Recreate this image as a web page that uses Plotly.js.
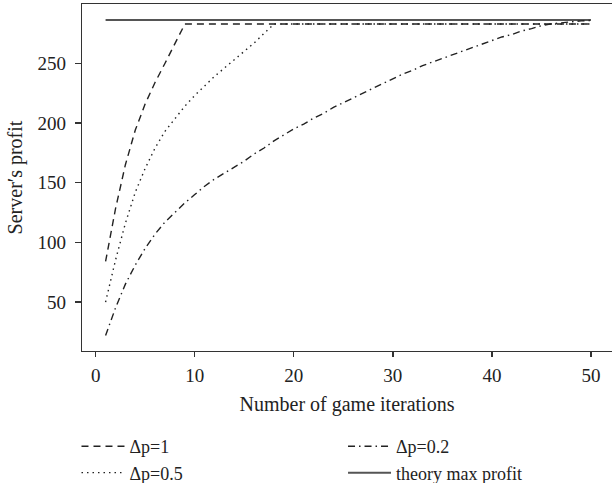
<!DOCTYPE html>
<html>
<head>
<meta charset="utf-8">
<script src="https://cdn.plot.ly/plotly-3.0.1.min.js"></script>
<style>html,body{margin:0;padding:0;background:#fff;}#chart{width:612px;height:483px;}</style>
</head>
<body>
<div id="chart"></div>
<script>
// Data
const xDp1 = [1, 2, 3, 4, 5, 6, 7, 8, 9, 50];
const yDp1 = [84, 128, 165, 194, 216, 234, 250, 266, 282.8, 282.8];

const xDp05 = [1, 2, 3, 4, 5, 6, 7, 8, 9, 10, 11, 12, 13, 14, 15, 16, 17, 18, 50];
const yDp05 = [50, 85, 116, 142, 162, 179, 193, 204, 214, 223, 231, 239, 246, 253, 260, 267, 275, 282.8, 282.8];

const xDp02 = [1, 2, 3, 4, 5, 6, 7, 8, 9, 10, 11, 12, 13, 14, 15, 16, 17, 18, 19, 20,
               21, 22, 23, 24, 25, 26, 27, 28, 29, 30, 31, 32, 33, 34, 35, 36, 37, 38, 39, 40,
               41, 42, 43, 44, 45, 46, 47, 48, 49, 50];
const yDp02 = [22, 45, 65, 81, 95, 107, 117, 125, 133, 140, 147, 153, 158, 163, 168, 174, 179, 185, 190, 195,
               199, 204, 208, 213, 217, 221, 225, 229, 233, 237, 241, 244, 248, 251, 254, 257, 260, 263, 266, 269,
               272, 274, 277, 279, 281.5, 283, 284, 285, 285.5, 285.8];

const xTheory = [1, 50];
const yTheory = [286.2, 286.2];

const names = ["Δp=1", "Δp=0.5", "Δp=0.2", "theory max profit"];
const xTicks = [0, 10, 20, 30, 40, 50];
const yTicks = [50, 100, 150, 200, 250];

const FONT = "'Liberation Serif', 'Times New Roman', serif";
const INK = "#222";

const traces = [
  {x: xTheory, y: yTheory, name: names[3], mode: "lines", legend: "legend2", legendrank: 2,
   line: {color: "#555", width: 2}},
  {x: xDp02, y: yDp02, name: names[2], mode: "lines", legend: "legend2", legendrank: 1,
   line: {color: INK, width: 1.4, dash: "7px,4px,1.5px,4px"}},
  {x: xDp05, y: yDp05, name: names[1], mode: "lines", legend: "legend", legendrank: 2,
   line: {color: INK, width: 1.4, dash: "1.5px,4px"}},
  {x: xDp1, y: yDp1, name: names[0], mode: "lines", legend: "legend", legendrank: 1,
   line: {color: INK, width: 1.4, dash: "7px,5px"}}
];

const legendCommon = {orientation: "v", xanchor: "left", yanchor: "top", y: -0.222,
  itemwidth: 43, traceorder: "normal", bgcolor: "rgba(0,0,0,0)", borderwidth: 0,
  font: {family: FONT, size: 18, color: INK}};

const layout = {
  width: 612, height: 483,
  margin: {l: 82, r: 0, t: 4, b: 132, autoexpand: false},
  paper_bgcolor: "#fff", plot_bgcolor: "#fff",
  font: {family: FONT, size: 18, color: INK},
  showlegend: true,
  legend: Object.assign({}, legendCommon, {x: -0.0104}),
  legend2: Object.assign({}, legendCommon, {x: 0.4925}),
  xaxis: {range: [-1.38, 52.12], tickvals: xTicks, ticktext: xTicks.map(String),
          showgrid: false, zeroline: false, showline: true, mirror: true,
          linecolor: "#333", linewidth: 1.3, ticks: "outside", ticklen: 5, tickwidth: 1.3, tickcolor: "#333",
          ticklabelstandoff: 2,
          tickfont: {family: FONT, size: 19, color: INK},
          title: {text: "Number of game iterations", standoff: 12, font: {family: FONT, size: 20, color: INK}}},
  yaxis: {range: [9, 299.6], tickvals: yTicks, ticktext: yTicks.map(String),
          showgrid: false, zeroline: false, showline: true, mirror: false,
          linecolor: "#333", linewidth: 1.3, ticks: "outside", ticklen: 6, tickwidth: 1.3, tickcolor: "#333",
          ticklabelstandoff: 5,
          tickfont: {family: FONT, size: 19, color: INK},
          title: {text: "Server′s profit", standoff: 9, font: {family: FONT, size: 20, color: INK}}}
};

Plotly.newPlot("chart", traces, layout, {displayModeBar: false, staticPlot: true});
</script>
</body>
</html>
